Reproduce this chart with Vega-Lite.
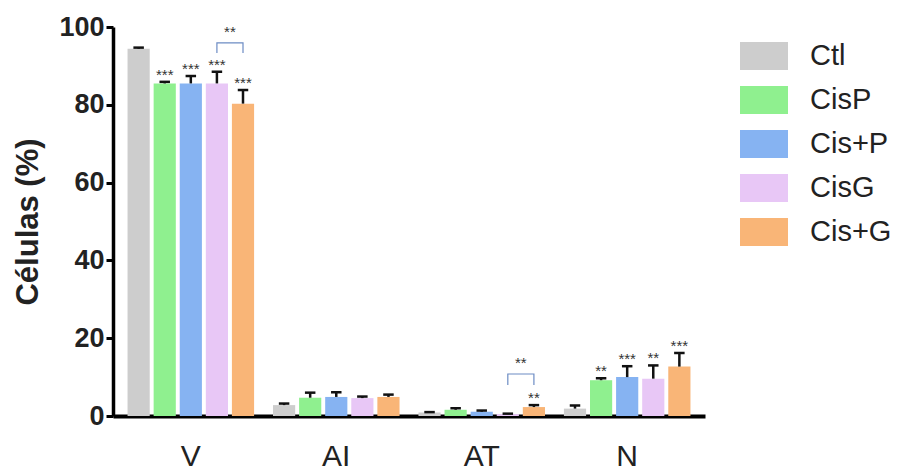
{
  "$schema": "https://vega.github.io/schema/vega-lite/v6.json",
  "width": 592,
  "height": 389,
  "autosize": "none",
  "padding": {"left": 113, "top": 27, "right": 197, "bottom": 59},
  "background": "white",
  "config": {
    "view": {"stroke": null},
    "font": "Liberation Sans"
  },
  "datasets": {
    "bars": [
      {"group": "V", "trt": "Ctl", "value": 94.4, "err": 0.3, "sig": ""},
      {"group": "V", "trt": "CisP", "value": 85.5, "err": 0.4, "sig": "***"},
      {"group": "V", "trt": "Cis+P", "value": 85.5, "err": 1.9, "sig": "***"},
      {"group": "V", "trt": "CisG", "value": 85.5, "err": 3.0, "sig": "***"},
      {"group": "V", "trt": "Cis+G", "value": 80.3, "err": 3.5, "sig": "***"},
      {"group": "AI", "trt": "Ctl", "value": 2.8, "err": 0.4, "sig": ""},
      {"group": "AI", "trt": "CisP", "value": 4.7, "err": 1.3, "sig": ""},
      {"group": "AI", "trt": "Cis+P", "value": 4.9, "err": 1.2, "sig": ""},
      {"group": "AI", "trt": "CisG", "value": 4.6, "err": 0.4, "sig": ""},
      {"group": "AI", "trt": "Cis+G", "value": 4.9, "err": 0.6, "sig": ""},
      {"group": "AT", "trt": "Ctl", "value": 0.9, "err": 0.1, "sig": ""},
      {"group": "AT", "trt": "CisP", "value": 1.6, "err": 0.4, "sig": ""},
      {"group": "AT", "trt": "Cis+P", "value": 1.1, "err": 0.3, "sig": ""},
      {"group": "AT", "trt": "CisG", "value": 0.5, "err": 0.1, "sig": ""},
      {"group": "AT", "trt": "Cis+G", "value": 2.3, "err": 0.5, "sig": "**"},
      {"group": "N", "trt": "Ctl", "value": 1.9, "err": 0.8, "sig": ""},
      {"group": "N", "trt": "CisP", "value": 9.2, "err": 0.5, "sig": "**"},
      {"group": "N", "trt": "Cis+P", "value": 10.0, "err": 2.8, "sig": "***"},
      {"group": "N", "trt": "CisG", "value": 9.6, "err": 3.4, "sig": "**"},
      {"group": "N", "trt": "Cis+G", "value": 12.7, "err": 3.5, "sig": "***"}
    ],
    "brackets": [
      {"id": "b1", "group": "V", "trt": "CisG", "y": 93.3, "ord": 1},
      {"id": "b1", "group": "V", "trt": "CisG", "y": 95.9, "ord": 2},
      {"id": "b1", "group": "V", "trt": "Cis+G", "y": 95.9, "ord": 3},
      {"id": "b1", "group": "V", "trt": "Cis+G", "y": 93.3, "ord": 4},
      {"id": "b2", "group": "AT", "trt": "CisG", "y": 8.0, "ord": 1},
      {"id": "b2", "group": "AT", "trt": "CisG", "y": 10.8, "ord": 2},
      {"id": "b2", "group": "AT", "trt": "Cis+G", "y": 10.8, "ord": 3},
      {"id": "b2", "group": "AT", "trt": "Cis+G", "y": 8.0, "ord": 4}
    ],
    "bracketLabels": [
      {"group": "V", "trt": "CisG", "y": 96.6, "label": "**"},
      {"group": "AT", "trt": "CisG", "y": 11.5, "label": "**"}
    ]
  },
  "encoding": {
    "x": {
      "field": "group",
      "type": "nominal",
      "sort": ["V", "AI", "AT", "N"],
      "scale": {"domain": ["V", "AI", "AT", "N"], "paddingInner": 0.13, "paddingOuter": 0.1},
      "axis": {
        "title": null,
        "labelAngle": 0,
        "labelFontSize": 30,
        "labelColor": "#222",
        "labelPadding": 25,
        "labelDx": 8,
        "ticks": false,
        "domainColor": "#000",
        "domainWidth": 4
      }
    },
    "xOffset": {
      "field": "trt",
      "type": "nominal",
      "scale": {"domain": ["Ctl", "CisP", "Cis+P", "CisG", "Cis+G"], "paddingInner": 0.15, "paddingOuter": 0}
    }
  },
  "layer": [
    {
      "data": {"name": "bars"},
      "mark": {"type": "bar"},
      "encoding": {
        "y": {
          "field": "value",
          "type": "quantitative",
          "scale": {"domain": [0, 100], "nice": false},
          "axis": {
            "title": "Células (%)",
            "titleFontSize": 31,
            "titleFontWeight": "bold",
            "titleColor": "#222",
            "titlePadding": 14,
            "values": [0, 20, 40, 60, 80, 100],
            "labelFontSize": 27,
            "labelFontWeight": "bold",
            "labelColor": "#222",
            "labelPadding": 2,
            "tickColor": "#000",
            "tickWidth": 3,
            "tickSize": 7,
            "domainColor": "#000",
            "domainWidth": 3.5,
            "grid": false
          }
        },
        "color": {
          "field": "trt",
          "type": "nominal",
          "scale": {
            "domain": ["Ctl", "CisP", "Cis+P", "CisG", "Cis+G"],
            "range": ["#cdcdcd", "#8ff08f", "#86b3f2", "#e8c7f6", "#f9b577"]
          },
          "legend": {
            "title": null,
            "orient": "none",
            "legendX": 627,
            "legendY": 5,
            "symbolType": "M-1,-0.58H1V0.58H-1Z",
            "symbolSize": 2304,
            "symbolStrokeWidth": 0,
            "labelFontSize": 29,
            "labelColor": "#222",
            "labelOffset": 22,
            "rowPadding": 5
          }
        }
      }
    },
    {
      "data": {"name": "bars"},
      "mark": {"type": "rule", "color": "#111", "strokeWidth": 2.5},
      "encoding": {
        "y": {"field": "value", "type": "quantitative"},
        "y2": {"field": "top"}
      },
      "transform": [{"calculate": "datum.value + datum.err", "as": "top"}]
    },
    {
      "data": {"name": "bars"},
      "transform": [{"calculate": "datum.value + datum.err", "as": "top"}],
      "mark": {"type": "point", "shape": "M-1,0L1,0", "filled": false, "size": 110, "stroke": "#111", "strokeWidth": 2.5, "opacity": 1},
      "encoding": {
        "y": {"field": "top", "type": "quantitative"}
      }
    },
    {
      "data": {"name": "bars"},
      "transform": [{"calculate": "datum.value + datum.err", "as": "top"}],
      "mark": {"type": "text", "baseline": "bottom", "fontSize": 15, "color": "#333", "dy": 1},
      "encoding": {
        "y": {"field": "top", "type": "quantitative"},
        "text": {"field": "sig"}
      }
    },
    {
      "data": {"name": "brackets"},
      "mark": {"type": "line", "color": "#6c8cc4", "strokeWidth": 1.2},
      "encoding": {
        "y": {"field": "y", "type": "quantitative"},
        "detail": {"field": "id"},
        "order": {"field": "ord"}
      }
    },
    {
      "data": {"name": "bracketLabels"},
      "mark": {"type": "text", "baseline": "bottom", "fontSize": 15, "color": "#333", "dx": 13},
      "encoding": {
        "y": {"field": "y", "type": "quantitative"},
        "text": {"field": "label"}
      }
    }
  ]
}
